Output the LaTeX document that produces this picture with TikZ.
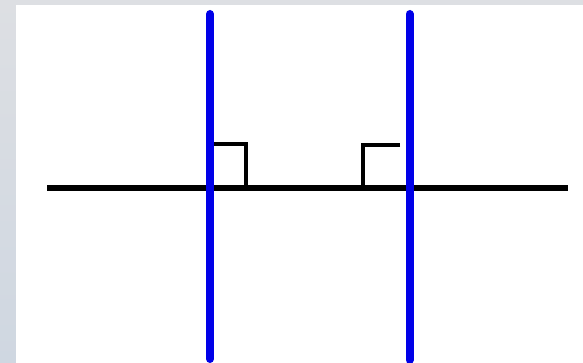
\documentclass[tikz,border=0pt]{standalone}
\definecolor{bgtop}{RGB}{221,223,227}
\definecolor{bgbot}{RGB}{207,215,225}
\definecolor{lensblue}{RGB}{0,0,232}
\tikzset{
  axisline/.style={line width=6pt, black},
  lensline/.style={line width=8pt, lensblue},
  rightmark/.style={line width=4.5pt, black, line join=miter}
}
\begin{document}
\begin{tikzpicture}[x=1pt,y=-1pt]
\useasboundingbox (0,0) rectangle (583,363);
\shade[top color=bgtop, bottom color=bgbot] (0,0) rectangle (583,363);
\fill[white] (16,5) rectangle (583,363);
% named coordinates
\coordinate (axL) at (47,188);
\coordinate (axR) at (568,188);
\coordinate (l1top) at (210,14);
\coordinate (l1bot) at (210,359);
\coordinate (l2top) at (409.5,14);
\coordinate (l2bot) at (409.5,360);
\coordinate (m1a) at (210,144);
\coordinate (m1b) at (246,144);
\coordinate (m1c) at (246,188);
\coordinate (m2a) at (400,145);
\coordinate (m2b) at (363,145);
\coordinate (m2c) at (363,188);
% optical axis
\draw[axisline] (axL) -- (axR);
% right-angle markers
\draw[rightmark] (m1a) -- (m1b) -- (m1c);
\draw[rightmark] (m2a) -- (m2b) -- (m2c);
% lenses
\draw[lensline, line cap=round] (l1top) -- (l1bot);
\draw[lensline, line cap=round] (l2top) -- (l2bot);
\end{tikzpicture}
\end{document}
